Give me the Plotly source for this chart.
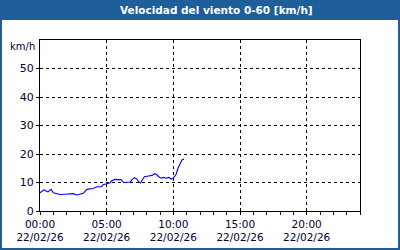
import plotly.graph_objects as go

# ---- data ----
times = ["00:00", "00:18", "00:36", "00:50", "01:00", "01:15", "01:30", "01:53", "02:15", "02:29",
         "02:46", "03:00", "03:15", "03:31", "03:46", "03:59", "04:16", "04:38", "04:44", "05:01",
         "05:16", "05:23", "05:38", "05:53", "06:05", "06:16", "06:31", "06:46", "06:54", "07:05",
         "07:16", "07:23", "07:32", "07:41", "07:50", "08:08", "08:24", "08:36", "08:46", "08:54",
         "09:06", "09:16", "09:27", "09:39", "09:51", "10:01", "10:12", "10:21", "10:30", "10:39",
         "10:48"]
speed = [6.4, 7.4, 6.7, 7.6, 6.4, 6.1, 5.8, 5.9, 6.1, 6.1,
         5.6, 5.8, 6.2, 7.6, 7.8, 7.9, 8.5, 8.5, 9.2, 9.7,
         9.9, 10.6, 11.1, 11.0, 11.0, 10.0, 10.0, 10.2, 11.0, 11.7,
         11.2, 10.3, 9.8, 11.0, 12.0, 12.3, 12.5, 13.1, 12.7, 12.0,
         11.5, 11.8, 11.5, 11.8, 11.2, 11.6, 12.8, 15.0, 16.7, 17.9,
         18.2]
date = "2026-02-22"
y_ticks = [0, 10, 20, 30, 40, 50]
title = "Velocidad del viento 0-60 [km/h]"
unit = "km/h"

x = [f"{date} {t}" for t in times]

W, H = 400, 250
ML, MR, MT, MB = 40, 40, 40, 39
PW, PH = W - ML - MR, H - MT - MB


def px(xp):
    return (xp - ML) / PW


def py(yp):
    return 1 - (yp - MT) / PH


BLUE = "#1f5f99"
TXT = "#000033"

fig = go.Figure()
fig.add_trace(go.Scatter(x=x, y=speed, mode="lines",
                         line=dict(color="#0000ff", width=1.1), hoverinfo="skip"))

fig.update_layout(
    width=W, height=H,
    margin=dict(l=ML, r=MR, t=MT, b=MB, autoexpand=False),
    paper_bgcolor="white", plot_bgcolor="white",
    showlegend=False,
    font=dict(family="DejaVu Sans", size=10, color=TXT),
    xaxis=dict(
        type="date", automargin=False,
        range=[f"{date} 00:00", "2026-02-23 00:00"],
        tick0=f"{date} 00:00", dtick=5 * 3600000,
        tickformat="%H:%M<br>%d/%m/%y",
        ticks="outside", ticklen=3, tickcolor="black",
        showline=True, linecolor="black", linewidth=1, mirror=True,
        showgrid=True, gridcolor="black", gridwidth=1, griddash="3px,3px",
        minor=dict(dtick=3600000, ticks="outside", ticklen=3, tickcolor="black", showgrid=False),
        tickfont=dict(family="DejaVu Sans", size=10.5, color=TXT),
        zeroline=False, fixedrange=True,
    ),
    yaxis=dict(
        range=[0, 60], tickvals=y_ticks, automargin=False,
        ticks="outside", ticklen=3, tickcolor="black",
        showline=True, linecolor="black", linewidth=1, mirror=True,
        showgrid=True, gridcolor="black", gridwidth=1, griddash="3px,3px",
        tickfont=dict(family="DejaVu Sans", size=11, color=TXT),
        zeroline=False, fixedrange=True,
    ),
    shapes=[
        dict(type="rect", xref="paper", yref="paper", layer="below",
             x0=px(0), x1=px(W), y0=py(20), y1=py(0),
             fillcolor=BLUE, line=dict(width=0)),
        dict(type="rect", xref="paper", yref="paper", layer="above",
             x0=px(1), x1=px(W - 1), y0=py(H - 1), y1=py(1),
             fillcolor="rgba(0,0,0,0)", line=dict(color=BLUE, width=2)),
    ],
    annotations=[
        dict(text=f"<b>{title}</b>", xref="paper", yref="paper",
             x=px(216), y=py(10), xanchor="center", yanchor="middle",
             showarrow=False, font=dict(family="DejaVu Sans", size=10.5, color="white")),
        dict(text=unit, xref="paper", yref="paper",
             x=px(37), y=py(46), xanchor="right", yanchor="middle",
             showarrow=False, font=dict(family="DejaVu Sans", size=10, color=TXT)),
    ],
)

fig.write_html("out.html", config={"displayModeBar": False})
